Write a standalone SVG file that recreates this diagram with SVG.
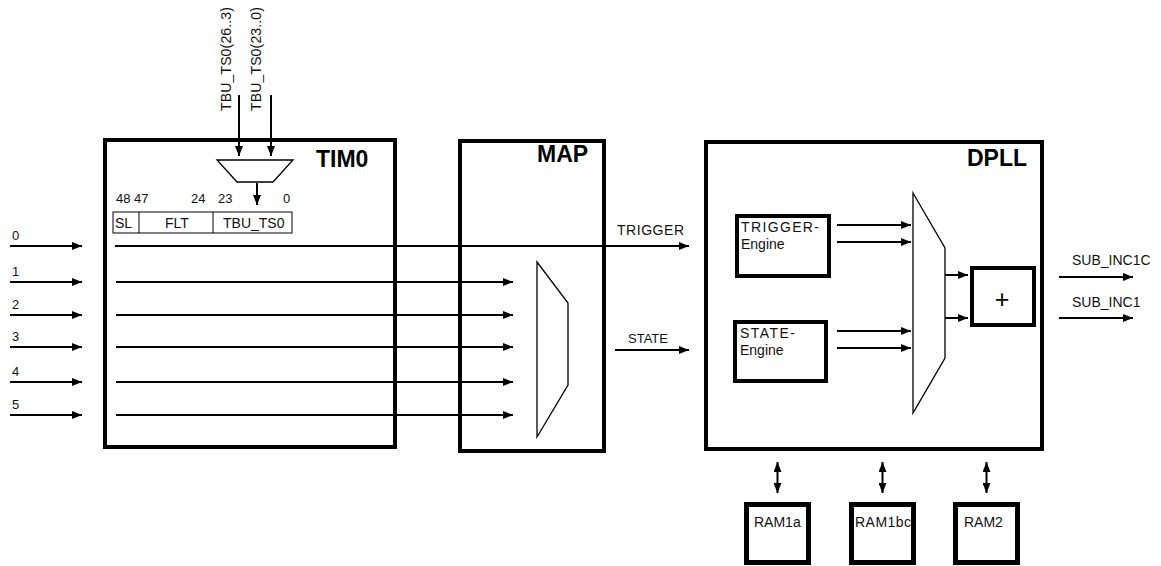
<svg xmlns="http://www.w3.org/2000/svg" width="1161" height="566" viewBox="0 0 1161 566">
<style>
.blk{fill:#fff;stroke:#000;stroke-width:4}
.ram{fill:#fff;stroke:#000;stroke-width:5}
.thin{fill:#fff;stroke:#000;stroke-width:1.3}
.ln{stroke:#000;stroke-width:2;fill:none}
.t{font-family:"Liberation Sans",Arial,sans-serif;font-size:14px;fill:#111}
.s{font-family:"Liberation Sans",Arial,sans-serif;font-size:13px;fill:#111}
.h{font-family:"Liberation Sans",Arial,sans-serif;font-size:23px;font-weight:bold;fill:#000}
</style>
<defs>
<marker id="ah" viewBox="0 0 10 8" refX="10" refY="4" markerWidth="10" markerHeight="8" markerUnits="userSpaceOnUse" orient="auto-start-reverse">
<path d="M0,0 L10,4 L0,8 z" fill="#000"/>
</marker>
</defs>
<rect width="1161" height="566" fill="#fff"/>

<g id="tim0">
<rect class="blk" x="105" y="140" width="290" height="307"/>
<text class="h" x="316" y="167">TIM0</text>
<polygon class="thin" points="217,160 293,160 273,182 237,182"/>
<text class="s" x="116" y="203">48 47</text>
<text class="s" x="191" y="203">24</text>
<text class="s" x="218" y="203">23</text>
<text class="s" x="283" y="203">0</text>
<rect x="113" y="212" width="179" height="21" fill="#fff" stroke="#000" stroke-width="1"/>
<line x1="139" y1="212" x2="139" y2="233" stroke="#000" stroke-width="1"/>
<line x1="213" y1="212" x2="213" y2="233" stroke="#000" stroke-width="1"/>
<text class="t" x="115" y="228">SL</text>
<text class="t" x="165" y="228">FLT</text>
<text class="t" x="223" y="228">TBU_TS0</text>
</g>

<g id="map">
<rect class="blk" x="460" y="141" width="144" height="310"/>
<text class="h" x="537" y="162">MAP</text>
<polygon class="thin" points="537,262 568,303 568,385 537,437"/>
</g>

<g id="dpll">
<rect class="blk" x="706" y="142" width="336" height="307"/>
<text class="h" x="967" y="166">DPLL</text>
<polygon class="thin" points="913,193 945,248 945,358 913,413"/>
</g>

<g id="trigger-engine">
<rect class="blk" x="737" y="216" width="92" height="60"/>
<text class="t" x="741" y="232" textLength="78" lengthAdjust="spacing">TRIGGER-</text>
<text class="t" x="741" y="249">Engine</text>
</g>

<g id="state-engine">
<rect class="blk" x="735" y="322" width="91" height="59"/>
<text class="t" x="740" y="338" textLength="55" lengthAdjust="spacing">STATE-</text>
<text class="t" x="740" y="355">Engine</text>
</g>

<g id="adder">
<rect class="blk" x="972" y="268" width="62" height="57"/>
<text x="1002" y="308" text-anchor="middle" font-family="Liberation Sans, Arial, sans-serif" font-size="25" fill="#000">+</text>
</g>

<g id="ram1a">
<rect class="ram" x="746.5" y="504.5" width="62" height="58"/>
<text class="t" x="754" y="527">RAM1a</text>
</g>
<g id="ram1bc">
<rect class="ram" x="851.5" y="504.5" width="62" height="58"/>
<text class="t" x="855" y="527" textLength="56" lengthAdjust="spacing">RAM1bc</text>
</g>
<g id="ram2">
<rect class="ram" x="955.5" y="504.5" width="62" height="58"/>
<text class="t" x="964" y="527">RAM2</text>
</g>

<g id="connectors">
<line class="ln" x1="239" y1="95" x2="239" y2="156" marker-end="url(#ah)"/>
<line class="ln" x1="271" y1="95" x2="271" y2="156" marker-end="url(#ah)"/>
<line class="ln" x1="257" y1="183" x2="257" y2="205" marker-end="url(#ah)"/>

<line class="ln" x1="10" y1="246" x2="82" y2="246" marker-end="url(#ah)"/>
<line class="ln" x1="10" y1="282" x2="82" y2="282" marker-end="url(#ah)"/>
<line class="ln" x1="10" y1="315" x2="82" y2="315" marker-end="url(#ah)"/>
<line class="ln" x1="10" y1="347" x2="82" y2="347" marker-end="url(#ah)"/>
<line class="ln" x1="10" y1="382" x2="82" y2="382" marker-end="url(#ah)"/>
<line class="ln" x1="10" y1="415" x2="82" y2="415" marker-end="url(#ah)"/>

<line class="ln" x1="115" y1="246" x2="689" y2="246" marker-end="url(#ah)"/>
<line class="ln" x1="116" y1="282" x2="513" y2="282" marker-end="url(#ah)"/>
<line class="ln" x1="116" y1="315" x2="513" y2="315" marker-end="url(#ah)"/>
<line class="ln" x1="116" y1="347" x2="513" y2="347" marker-end="url(#ah)"/>
<line class="ln" x1="116" y1="382" x2="513" y2="382" marker-end="url(#ah)"/>
<line class="ln" x1="116" y1="415" x2="513" y2="415" marker-end="url(#ah)"/>

<line class="ln" x1="615" y1="350" x2="689" y2="350" marker-end="url(#ah)"/>

<line class="ln" x1="837" y1="225" x2="911" y2="225" marker-end="url(#ah)"/>
<line class="ln" x1="837" y1="242" x2="911" y2="242" marker-end="url(#ah)"/>
<line class="ln" x1="837" y1="331" x2="911" y2="331" marker-end="url(#ah)"/>
<line class="ln" x1="837" y1="348" x2="911" y2="348" marker-end="url(#ah)"/>

<line class="ln" x1="945" y1="275" x2="968" y2="275" marker-end="url(#ah)"/>
<line class="ln" x1="945" y1="318" x2="968" y2="318" marker-end="url(#ah)"/>

<line class="ln" x1="1059" y1="277" x2="1133" y2="277" marker-end="url(#ah)"/>
<line class="ln" x1="1059" y1="318" x2="1133" y2="318" marker-end="url(#ah)"/>

<line class="ln" x1="777.5" y1="462" x2="777.5" y2="493" marker-start="url(#ah)" marker-end="url(#ah)"/>
<line class="ln" x1="882.5" y1="462" x2="882.5" y2="493" marker-start="url(#ah)" marker-end="url(#ah)"/>
<line class="ln" x1="986.5" y1="462" x2="986.5" y2="493" marker-start="url(#ah)" marker-end="url(#ah)"/>
</g>

<g id="labels">
<text class="t" transform="translate(231,111) rotate(-90)" textLength="104" lengthAdjust="spacing">TBU_TS0(26..3)</text>
<text class="t" transform="translate(261,111) rotate(-90)" textLength="104" lengthAdjust="spacing">TBU_TS0(23..0)</text>
<text class="s" x="12" y="240">0</text>
<text class="s" x="12" y="276">1</text>
<text class="s" x="12" y="309">2</text>
<text class="s" x="12" y="341">3</text>
<text class="s" x="12" y="376">4</text>
<text class="s" x="12" y="409">5</text>
<text class="t" x="617" y="235" textLength="67" lengthAdjust="spacing">TRIGGER</text>
<text class="s" x="628" y="343">STATE</text>
<text class="t" x="1072" y="265">SUB_INC1C</text>
<text class="t" x="1072" y="307">SUB_INC1</text>
</g>
</svg>
